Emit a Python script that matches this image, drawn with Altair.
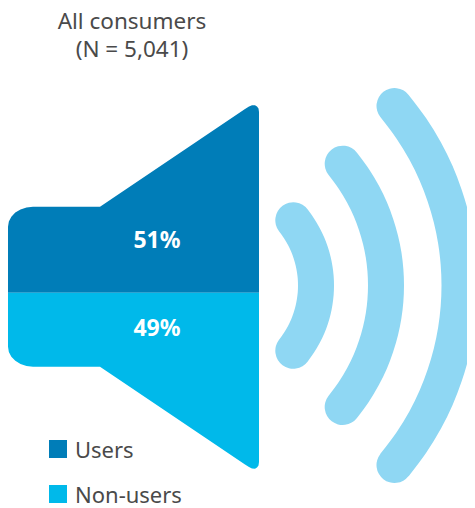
import altair as alt
import pandas as pd

# Title and labels
title_lines = ["All consumers", "(N = 5,041)"]
title_x = [132, 132]
title_y = [21.5, 50]
segments = ["Users", "Non-users"]
shares = ["51%", "49%"]
colors = ["#007DB8", "#00B9EA"]
share_x = [157, 157]
share_y = [241, 329]
legend_x = [58, 58]
legend_y = [449, 494]
legend_label_y = [450.5, 495.5]
legend_text_x = [75, 75]

# Speaker outline
top_x = [8, 8.85, 11.35, 15.3, 20.5, 26.5, 33, 100, 245, 249, 252, 255, 257, 258.5, 259]
top_y = [226.7, 221.5, 216.7, 212.6, 209.4, 207.4, 206.7, 206.7, 109, 106.5, 105.3, 105.3, 106.5, 108.5, 112]
bot_y = [346.7, 351.9, 356.7, 360.8, 364, 366, 366.7, 366.7, 464.5, 467, 468.5, 468.7, 467.5, 465.5, 462]
center_y = 292.7

# Sound waves (centre lines)
arc1_x = [293.3, 299.1, 303.9, 307.8, 310.8, 313.1, 314.7, 315.7, 316,
          315.7, 314.7, 313.1, 310.8, 307.8, 303.9, 299.1, 293.3]
arc1_y = [220.3, 228.45, 236.6, 244.75, 252.9, 261.05, 269.2, 277.35, 285.5,
          293.65, 301.8, 309.95, 318.1, 326.25, 334.4, 342.55, 350.7]
arc2_x = [342.7, 353.9, 363, 370.4, 376.1, 380.5, 383.6, 385.4, 386,
          385.4, 383.6, 380.5, 376.1, 370.4, 363, 353.9, 342.7]
arc2_y = [163.7, 178.95, 194.15, 209.35, 224.55, 239.75, 254.95, 270.15, 285.35,
          300.55, 315.75, 330.95, 346.15, 361.35, 376.55, 391.75, 407]
arc3_x = [394.5, 411.3, 425.1, 436.1, 444.7, 451.3, 455.9, 458.6, 459.5,
          458.6, 455.9, 451.3, 444.7, 436.1, 425.1, 411.3, 394.5]
arc3_y = [106, 128.4, 150.9, 173.3, 195.75, 218.2, 240.6, 263.1, 285.5,
          307.9, 330.4, 352.8, 375.25, 397.7, 420.1, 442.6, 465]
wave_color = "#8FD7F3"
text_color = "#4A4A4A"

xs = alt.Scale(domain=[8, 467], nice=False, zero=False)
ys = alt.Scale(domain=[508, 8], nice=False, zero=False)
X = lambda f: alt.X(f, type="quantitative", scale=xs, axis=None)
Y = lambda f: alt.Y(f, type="quantitative", scale=ys, axis=None)

speaker = pd.DataFrame({
    "x": top_x + top_x,
    "y": top_y + bot_y,
    "y2": [center_y] * (len(top_x) * 2),
    "segment": [segments[0]] * len(top_x) + [segments[1]] * len(top_x),
})
area = alt.Chart(speaker).mark_area(interpolate="linear", opacity=1).encode(
    x=X("x"), y=Y("y"), y2="y2",
    color=alt.Color("segment:N", scale=alt.Scale(domain=segments, range=colors), legend=None),
)

rows = []
for name, ax, ay in [("a", arc1_x, arc1_y), ("b", arc2_x, arc2_y), ("c", arc3_x, arc3_y)]:
    for i, (px, py) in enumerate(zip(ax, ay)):
        rows.append({"arc": name, "i": i, "x": px, "y": py})
waves = alt.Chart(pd.DataFrame(rows)).mark_line(
    interpolate="catmull-rom", strokeWidth=36, strokeCap="round", strokeJoin="round", color=wave_color
).encode(x=X("x"), y=Y("y"), detail="arc:N", order="i:Q")

titles = alt.Chart(pd.DataFrame({"t": title_lines, "x": title_x, "y": title_y})).mark_text(
    font="Noto Sans", fontSize=22.5, color=text_color, align="center", baseline="middle"
).encode(x=X("x"), y=Y("y"), text="t:N")

share_text = alt.Chart(pd.DataFrame({"t": shares, "x": share_x, "y": share_y})).mark_text(
    font="Noto Sans", fontSize=23, fontWeight="bold", color="white", align="center", baseline="middle"
).encode(x=X("x"), y=Y("y"), text="t:N")

legend_df = pd.DataFrame({"s": segments, "x": legend_x, "y": legend_y, "tx": legend_text_x, "ty": legend_label_y})
swatches = alt.Chart(legend_df).mark_square(size=324, opacity=1, filled=True).encode(
    x=X("x"), y=Y("y"),
    color=alt.Color("s:N", scale=alt.Scale(domain=segments, range=colors), legend=None),
)
legend_text = alt.Chart(legend_df).mark_text(
    font="Noto Sans", fontSize=22, color=text_color, align="left", baseline="middle"
).encode(x=X("tx"), y=Y("ty"), text="s:N")

chart = alt.layer(area, waves, titles, share_text, swatches, legend_text).properties(
    width=459, height=500, padding=0,
    autosize=alt.AutoSizeParams(type="none"),
).configure_view(stroke=None)

chart.save("out.html", embed_options={"renderer": "svg", "actions": False})
